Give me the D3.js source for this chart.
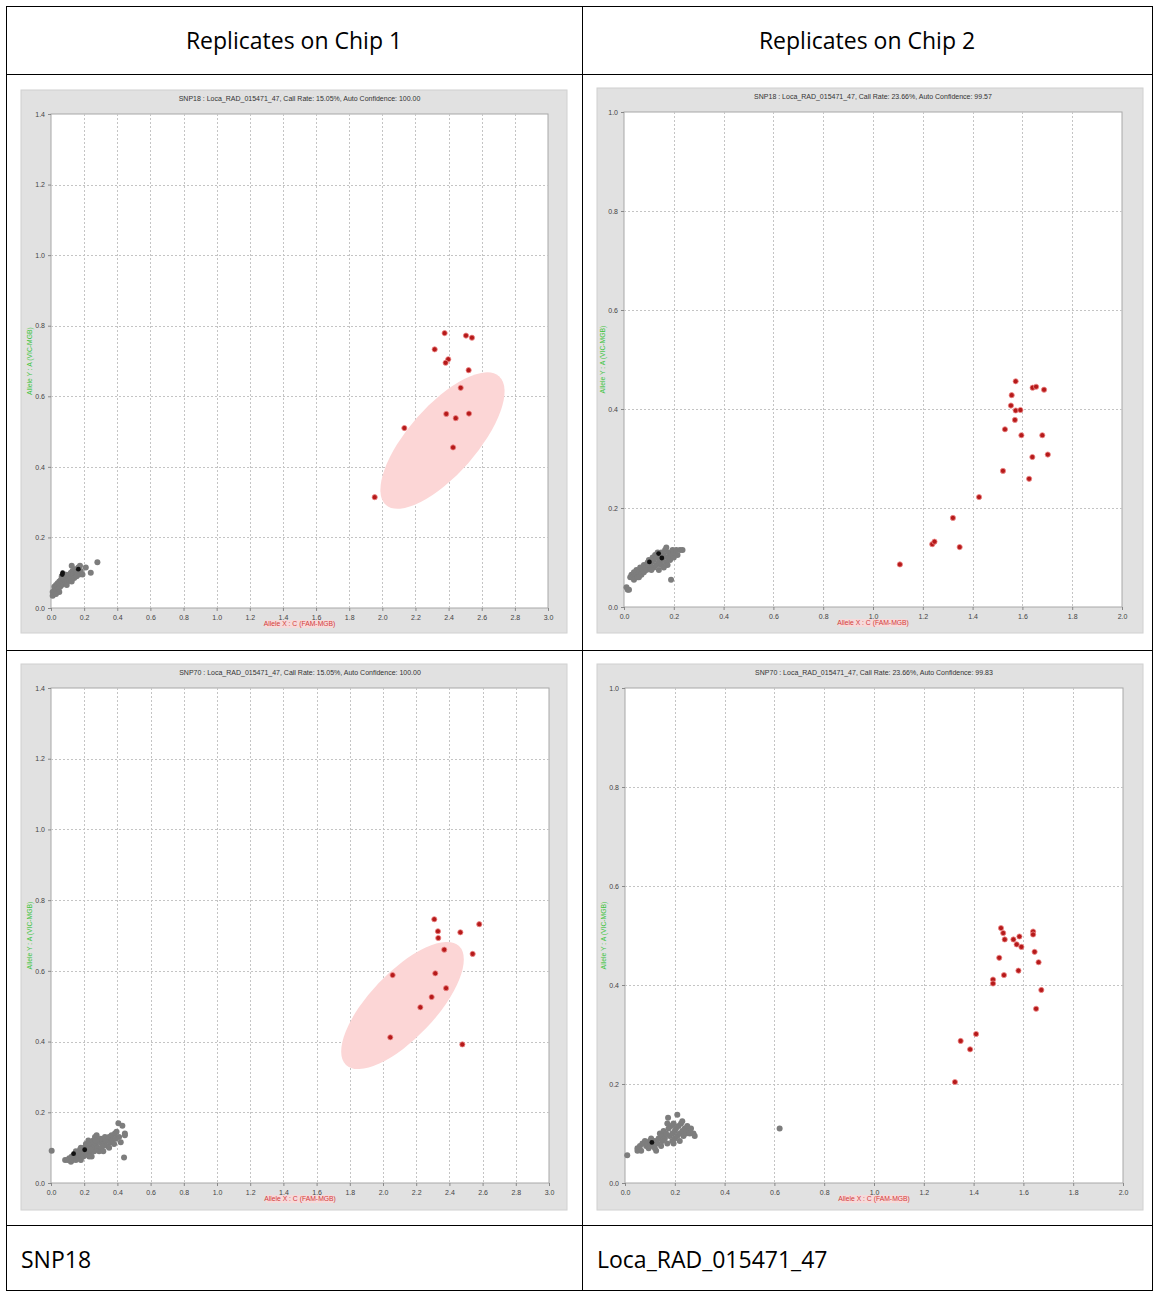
<!DOCTYPE html>
<html>
<head>
<meta charset="utf-8">
<script src="https://cdn.jsdelivr.net/npm/d3@7"></script>
<style>
  body { margin: 0; background: #fff; }
  svg text { font-family: "Liberation Sans", Arial, sans-serif; }
  .cell-text { font-family: "Open Sans", sans-serif; font-size: 23px; fill: #000; }
  .panel-title { font-size: 7px; fill: #333; }
  .tick-label { font-size: 7px; fill: #444; }
  .x-label { font-size: 6.8px; fill: #d43a3a; }
  .y-label { font-size: 6.8px; fill: #3cc43c; }
</style>
</head>
<body>
<div id="chart"></div>
<script>
// ---- table text ----
const headerLabels = ['Replicates on Chip 1', 'Replicates on Chip 2'];
const footerLabels = ['SNP18', 'Loca_RAD_015471_47'];

const panelTitles = [
  'SNP18 : Loca_RAD_015471_47, Call Rate: 15.05%, Auto Confidence: 100.00',
  'SNP18 : Loca_RAD_015471_47, Call Rate: 23.66%, Auto Confidence: 99.57',
  'SNP70 : Loca_RAD_015471_47, Call Rate: 15.05%, Auto Confidence: 100.00',
  'SNP70 : Loca_RAD_015471_47, Call Rate: 23.66%, Auto Confidence: 99.83'
];
const xAxisTitle = 'Allele X : C (FAM-MGB)';
const yAxisTitle = 'Allele Y : A (VIC-MGB)';

// axis ranges for chip 1 / chip 2 plots
const chip1Domain = {x: 3.0, y: 1.4};
const chip2Domain = {x: 2.0, y: 1.0};

// ---- SNP18, chip 1 ----
const snp18Chip1Called = [
  [2.376,0.779],[2.505,0.772],[2.541,0.766],[2.316,0.733],[2.398,0.705],[2.382,0.695],
  [2.521,0.674],[2.473,0.624],[2.386,0.550],[2.443,0.538],[2.523,0.551],[2.133,0.510],
  [2.427,0.455],[1.954,0.314]
];
const snp18Chip1Other = [
  [0.01,0.035],[0.01,0.045],[0.015,0.04],[0.02,0.05],[0.02,0.06],[0.025,0.045],[0.03,0.055],
  [0.03,0.065],[0.035,0.05],[0.04,0.06],[0.04,0.07],[0.045,0.055],[0.05,0.065],[0.05,0.075],
  [0.055,0.06],[0.06,0.07],[0.06,0.08],[0.065,0.065],[0.07,0.075],[0.07,0.085],[0.075,0.07],
  [0.08,0.08],[0.08,0.09],[0.085,0.075],[0.09,0.085],[0.09,0.07],[0.095,0.08],[0.1,0.09],
  [0.1,0.075],[0.105,0.085],[0.11,0.08],[0.11,0.095],[0.115,0.09],[0.12,0.085],[0.12,0.1],
  [0.125,0.12],[0.13,0.09],[0.13,0.105],[0.135,0.095],[0.14,0.085],[0.14,0.1],[0.145,0.11],
  [0.15,0.095],[0.155,0.09],[0.16,0.1],[0.165,0.115],[0.17,0.095],[0.175,0.12],[0.18,0.105],
  [0.19,0.095],[0.21,0.115],[0.24,0.1],[0.28,0.13],[0.05,0.045],[0.03,0.04],[0.065,0.09],
  [0.085,0.095],[0.095,0.065],[0.125,0.075],[0.155,0.105]
];
const snp18Chip1NoCall = [[0.07,0.1],[0.068,0.095],[0.165,0.11]];
const snp18Chip1Ellipse = {x1: 2.022, y1: 0.292, x2: 2.704, y2: 0.657, ratio: 0.4};

// ---- SNP18, chip 2 ----
const snp18Chip2Called = [
  [1.573,0.456],[1.641,0.443],[1.655,0.445],[1.687,0.439],[1.557,0.428],[1.554,0.407],
  [1.573,0.397],[1.592,0.398],[1.570,0.378],[1.530,0.359],[1.596,0.347],[1.680,0.347],
  [1.702,0.308],[1.640,0.303],[1.522,0.275],[1.627,0.259],[1.426,0.222],[1.321,0.180],
  [1.238,0.127],[1.247,0.132],[1.348,0.121],[1.108,0.086]
];
const snp18Chip2Other = [
  [0.01,0.04],[0.015,0.035],[0.02,0.035],[0.025,0.06],[0.03,0.065],[0.035,0.06],[0.04,0.055],
  [0.04,0.07],[0.045,0.06],[0.05,0.065],[0.05,0.075],[0.055,0.06],[0.06,0.07],[0.065,0.08],
  [0.07,0.065],[0.075,0.075],[0.08,0.07],[0.08,0.085],[0.085,0.08],[0.09,0.075],[0.095,0.09],
  [0.1,0.08],[0.1,0.095],[0.105,0.085],[0.11,0.09],[0.115,0.1],[0.12,0.08],[0.12,0.095],
  [0.125,0.105],[0.13,0.085],[0.13,0.1],[0.135,0.11],[0.14,0.09],[0.14,0.075],[0.145,0.1],
  [0.15,0.085],[0.15,0.11],[0.155,0.095],[0.16,0.105],[0.165,0.115],[0.17,0.09],[0.17,0.12],
  [0.175,0.1],[0.18,0.11],[0.185,0.095],[0.19,0.105],[0.195,0.115],[0.2,0.1],[0.2,0.11],
  [0.21,0.115],[0.215,0.105],[0.225,0.115],[0.235,0.115],[0.189,0.055],[0.16,0.08],
  [0.175,0.085],[0.06,0.06],[0.11,0.075]
];
const snp18Chip2NoCall = [[0.102,0.091],[0.152,0.099],[0.139,0.108]];

// ---- SNP70, chip 1 ----
const snp70Chip1Called = [
  [2.309,0.746],[2.580,0.732],[2.331,0.712],[2.466,0.709],[2.333,0.693],[2.369,0.660],
  [2.540,0.648],[2.058,0.588],[2.315,0.593],[2.380,0.551],[2.293,0.526],[2.225,0.497],
  [2.044,0.412],[2.478,0.392]
];
const snp70Chip1Other = [
  [0.004,0.091],[0.085,0.065],[0.1,0.065],[0.11,0.07],[0.12,0.06],[0.125,0.075],[0.13,0.065],
  [0.14,0.07],[0.14,0.08],[0.15,0.065],[0.15,0.09],[0.16,0.075],[0.165,0.07],[0.17,0.085],
  [0.175,0.095],[0.18,0.065],[0.18,0.08],[0.19,0.09],[0.195,0.075],[0.2,0.1],[0.2,0.085],
  [0.21,0.11],[0.215,0.08],[0.22,0.095],[0.225,0.12],[0.23,0.1],[0.235,0.085],[0.24,0.11],
  [0.245,0.075],[0.25,0.1],[0.255,0.12],[0.26,0.09],[0.265,0.13],[0.27,0.11],[0.275,0.135],
  [0.28,0.1],[0.285,0.12],[0.29,0.09],[0.295,0.115],[0.3,0.125],[0.305,0.1],[0.31,0.12],
  [0.315,0.09],[0.32,0.11],[0.325,0.13],[0.33,0.12],[0.34,0.105],[0.345,0.12],[0.35,0.13],
  [0.36,0.115],[0.365,0.135],[0.37,0.12],[0.38,0.11],[0.385,0.14],[0.39,0.125],[0.395,0.145],
  [0.406,0.169],[0.43,0.162],[0.44,0.072],[0.445,0.14],[0.445,0.135],[0.42,0.115],[0.41,0.13],
  [0.27,0.12],[0.24,0.095],[0.23,0.075],[0.31,0.105],[0.35,0.1],[0.18,0.1],[0.16,0.085]
];
const snp70Chip1NoCall = [[0.136,0.083],[0.203,0.094]];
const snp70Chip1Ellipse = {x1: 1.777, y1: 0.334, x2: 2.458, y2: 0.670, ratio: 0.4};

// ---- SNP70, chip 2 ----
const snp70Chip2Called = [
  [1.510,0.515],[1.519,0.505],[1.525,0.492],[1.560,0.492],[1.584,0.498],[1.573,0.482],
  [1.592,0.477],[1.639,0.508],[1.639,0.502],[1.645,0.467],[1.661,0.446],[1.503,0.455],
  [1.580,0.429],[1.522,0.420],[1.478,0.411],[1.478,0.403],[1.672,0.390],[1.651,0.352],
  [1.410,0.301],[1.348,0.287],[1.386,0.270],[1.325,0.204]
];
const snp70Chip2Other = [
  [0.009,0.056],[0.05,0.07],[0.05,0.065],[0.06,0.075],[0.065,0.065],[0.07,0.08],[0.08,0.085],
  [0.085,0.075],[0.09,0.08],[0.095,0.07],[0.1,0.085],[0.1,0.075],[0.105,0.09],[0.11,0.08],
  [0.115,0.075],[0.12,0.085],[0.125,0.065],[0.13,0.08],[0.135,0.09],[0.14,0.1],[0.145,0.075],
  [0.15,0.095],[0.155,0.105],[0.16,0.09],[0.165,0.1],[0.17,0.12],[0.173,0.132],[0.175,0.11],
  [0.18,0.095],[0.185,0.115],[0.19,0.1],[0.19,0.085],[0.195,0.12],[0.2,0.105],[0.2,0.09],
  [0.205,0.11],[0.21,0.095],[0.21,0.138],[0.215,0.115],[0.22,0.1],[0.22,0.085],[0.225,0.12],
  [0.23,0.105],[0.235,0.095],[0.24,0.11],[0.245,0.1],[0.25,0.115],[0.255,0.105],[0.26,0.1],
  [0.265,0.11],[0.275,0.1],[0.28,0.095],[0.23,0.125],[0.17,0.08],[0.12,0.07],[0.621,0.11],
  [0.195,0.08],[0.15,0.085]
];
const snp70Chip2NoCall = [[0.108,0.082]];


class AlleleScatter {

  constructor(_config, _data) {
    this.config = {
      parentElement: _config.parentElement,
      left: _config.left,
      top: _config.top,
      containerWidth: _config.containerWidth || 546,
      containerHeight: _config.containerHeight || 545,
      margin: _config.margin || {top: 24, right: 19, bottom: 25, left: 30},
      domain: _config.domain,
      title: _config.title,
      pointRadius: 2.6,
      clusterRadius: 3
    };
    this.data = _data;
    this.initVis();
  }

  initVis() {
    let vis = this;
    const m = vis.config.margin;

    vis.width = vis.config.containerWidth - m.left - m.right;
    vis.height = vis.config.containerHeight - m.top - m.bottom;

    vis.panel = vis.config.parentElement.append('g')
        .attr('transform', `translate(${vis.config.left},${vis.config.top})`);

    // grey window background
    vis.panel.append('rect')
        .attr('width', vis.config.containerWidth)
        .attr('height', vis.config.containerHeight)
        .attr('fill', '#e1e1e1')
        .attr('stroke', '#d0d0d0');

    vis.chart = vis.panel.append('g')
        .attr('transform', `translate(${m.left},${m.top})`);

    vis.xScale = d3.scaleLinear().domain([0, vis.config.domain.x]).range([0, vis.width]);
    vis.yScale = d3.scaleLinear().domain([0, vis.config.domain.y]).range([vis.height, 0]);

    vis.chart.append('rect')
        .attr('width', vis.width)
        .attr('height', vis.height)
        .attr('fill', '#fff')
        .attr('stroke', '#a8a8a8');

    vis.updateVis();
  }

  updateVis() {
    let vis = this;
    vis.xTicks = d3.range(0, vis.config.domain.x + 0.001, 0.2);
    vis.yTicks = d3.range(0, vis.config.domain.y + 0.001, 0.2);
    vis.renderVis();
  }

  renderVis() {
    let vis = this;

    // dashed grid
    vis.chart.selectAll('.grid-x')
        .data(vis.xTicks.slice(1, -1))
      .join('line')
        .attr('class', 'grid-x')
        .attr('x1', d => Math.round(vis.xScale(d)) + 0.5)
        .attr('x2', d => Math.round(vis.xScale(d)) + 0.5)
        .attr('y1', 0)
        .attr('y2', vis.height)
        .attr('stroke', '#c4c4c4')
        .attr('stroke-dasharray', '2,2');

    vis.chart.selectAll('.grid-y')
        .data(vis.yTicks.slice(1, -1))
      .join('line')
        .attr('class', 'grid-y')
        .attr('y1', d => Math.round(vis.yScale(d)) + 0.5)
        .attr('y2', d => Math.round(vis.yScale(d)) + 0.5)
        .attr('x1', 0)
        .attr('x2', vis.width)
        .attr('stroke', '#c4c4c4')
        .attr('stroke-dasharray', '2,2');

    // axes
    const xAxis = d3.axisBottom(vis.xScale).tickValues(vis.xTicks).tickSize(3).tickFormat(d3.format('.1f'));
    const yAxis = d3.axisLeft(vis.yScale).tickValues(vis.yTicks).tickSize(3).tickFormat(d3.format('.1f'));

    const gx = vis.chart.append('g')
        .attr('transform', `translate(0,${vis.height})`)
        .call(xAxis);
    const gy = vis.chart.append('g').call(yAxis);
    [gx, gy].forEach(g => {
      g.select('.domain').remove();
      g.selectAll('line').attr('stroke', '#888');
      g.selectAll('text').attr('class', 'tick-label').attr('font-family', null).attr('font-size', null);
    });
    gx.selectAll('text').attr('dy', '0.9em');

    // cluster ellipse
    if (vis.data.ellipse) {
      const e = vis.data.ellipse;
      const p1 = [vis.xScale(e.x1), vis.yScale(e.y1)];
      const p2 = [vis.xScale(e.x2), vis.yScale(e.y2)];
      const a = Math.hypot(p2[0] - p1[0], p2[1] - p1[1]) / 2;
      const angle = Math.atan2(p2[1] - p1[1], p2[0] - p1[0]) * 180 / Math.PI;
      vis.chart.append('ellipse')
          .attr('transform', `translate(${(p1[0] + p2[0]) / 2},${(p1[1] + p2[1]) / 2}) rotate(${angle})`)
          .attr('rx', a)
          .attr('ry', a * e.ratio)
          .attr('fill', '#fcd6d6');
    }

    // points
    vis.chart.selectAll('.other')
        .data(vis.data.other)
      .join('circle')
        .attr('class', 'other')
        .attr('cx', d => vis.xScale(d[0]))
        .attr('cy', d => vis.yScale(d[1]))
        .attr('r', vis.config.clusterRadius)
        .attr('fill', '#7d7d7d');

    vis.chart.selectAll('.nocall')
        .data(vis.data.noCall)
      .join('circle')
        .attr('class', 'nocall')
        .attr('cx', d => vis.xScale(d[0]))
        .attr('cy', d => vis.yScale(d[1]))
        .attr('r', 2.4)
        .attr('fill', '#111');

    vis.chart.selectAll('.called')
        .data(vis.data.called)
      .join('circle')
        .attr('class', 'called')
        .attr('cx', d => vis.xScale(d[0]))
        .attr('cy', d => vis.yScale(d[1]))
        .attr('r', vis.config.pointRadius)
        .attr('fill', '#b51a1a')
        .attr('stroke', '#f08a8a')
        .attr('stroke-width', 0.8);

    // titles
    vis.panel.append('text')
        .attr('class', 'panel-title')
        .attr('text-anchor', 'middle')
        .attr('x', vis.config.margin.left + vis.width / 2)
        .attr('y', 11)
        .text(vis.config.title);

    const xl = vis.chart.append('g')
        .attr('transform', `translate(${vis.width / 2},${vis.height + 18})`);
    xl.append('rect')
        .attr('x', -34).attr('y', -6)
        .attr('width', 68).attr('height', 8)
        .attr('fill', '#f6dada');
    xl.append('text')
        .attr('class', 'x-label')
        .attr('text-anchor', 'middle')
        .text(xAxisTitle);

    vis.chart.append('text')
        .attr('class', 'y-label')
        .attr('text-anchor', 'middle')
        .attr('transform', `translate(${-19},${vis.height / 2}) rotate(-90)`)
        .text(yAxisTitle);
  }
}

// ---- page ----
const svg = d3.select('#chart').append('svg')
    .attr('width', 1158)
    .attr('height', 1291);

const table = svg.append('g');
const colX = [6, 582, 1152];
const rowY = [6, 74, 650, 1225, 1290];

table.selectAll('.vline')
    .data(colX)
  .join('line')
    .attr('x1', d => d + 0.5).attr('x2', d => d + 0.5)
    .attr('y1', rowY[0]).attr('y2', rowY[rowY.length - 1])
    .attr('stroke', '#000');
table.selectAll('.hline')
    .data(rowY)
  .join('line')
    .attr('y1', d => d + 0.5).attr('y2', d => d + 0.5)
    .attr('x1', colX[0]).attr('x2', colX[2] + 1)
    .attr('stroke', '#000');

table.selectAll('.header')
    .data(headerLabels)
  .join('text')
    .attr('class', 'cell-text')
    .attr('text-anchor', 'middle')
    .attr('x', (d, i) => (colX[i] + colX[i + 1]) / 2)
    .attr('y', 49)
    .text(d => d);

table.selectAll('.footer')
    .data(footerLabels)
  .join('text')
    .attr('class', 'cell-text')
    .attr('x', (d, i) => colX[i] + 15)
    .attr('y', 1268)
    .text(d => d);

new AlleleScatter({parentElement: svg, left: 21, top: 90, containerHeight: 543,
    margin: {top: 24, right: 19, bottom: 25, left: 30}, domain: chip1Domain, title: panelTitles[0]},
  {called: snp18Chip1Called, other: snp18Chip1Other, noCall: snp18Chip1NoCall, ellipse: snp18Chip1Ellipse});

new AlleleScatter({parentElement: svg, left: 597, top: 88, containerHeight: 545,
    margin: {top: 24, right: 21, bottom: 26, left: 27}, domain: chip2Domain, title: panelTitles[1]},
  {called: snp18Chip2Called, other: snp18Chip2Other, noCall: snp18Chip2NoCall});

new AlleleScatter({parentElement: svg, left: 21, top: 664, containerHeight: 546,
    margin: {top: 24, right: 18, bottom: 27, left: 30}, domain: chip1Domain, title: panelTitles[2]},
  {called: snp70Chip1Called, other: snp70Chip1Other, noCall: snp70Chip1NoCall, ellipse: snp70Chip1Ellipse});

new AlleleScatter({parentElement: svg, left: 597, top: 664, containerHeight: 546,
    margin: {top: 24, right: 20, bottom: 27, left: 28}, domain: chip2Domain, title: panelTitles[3]},
  {called: snp70Chip2Called, other: snp70Chip2Other, noCall: snp70Chip2NoCall});
</script>
</body>
</html>
